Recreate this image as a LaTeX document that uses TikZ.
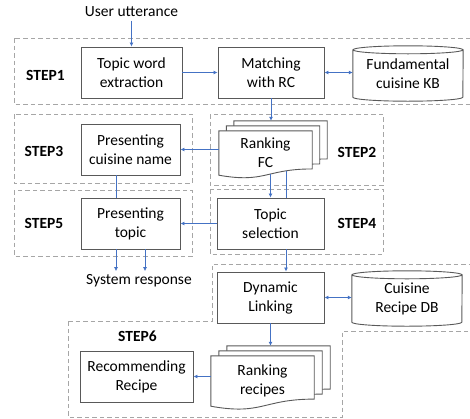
\documentclass[tikz,border=0pt]{standalone}
\usepackage{fontspec}
\setmainfont{Carlito}
\usetikzlibrary{arrows.meta,calc,backgrounds}

\definecolor{boxgray}{HTML}{595959}
\definecolor{dashgray}{HTML}{A6A6A6}
\definecolor{flowblue}{HTML}{4472C4}

% one sheet of a stacked-document symbol, shifted by #2 from node #1
\newcommand\docsheet[2]{%
  \filldraw[boxline,fill=white]
    let \p1=([shift={(#2)}]#1.north west), \p2=([shift={(#2)}]#1.south east),
        \n1={\y1-\y2} in
    (\x1,\y1) -- (\x1,\y2)
    .. controls ({(\x1+\x2)/2},{\y2-0.185*\n1}) and ({(\x1+\x2)/2},{\y2+0.141*\n1}) ..
    (\x2,{\y2+0.141*\n1}) -- (\x2,\y1) -- cycle;}

% database drum around node #1
\newcommand\drum[1]{%
  \draw[boxline] let \p1=(#1.north west), \p2=(#1.south east) in
    ({(\x1+\x2)/2},{\y1-4pt}) ellipse [x radius=55pt, y radius=4pt]
    (\x1,{\y1-4pt}) -- (\x1,{\y2+4pt})
    arc [start angle=180, end angle=360, x radius=55pt, y radius=4pt]
    -- (\x2,{\y1-4pt});}

\begin{document}
\begin{tikzpicture}[x=1pt,y=-1pt,
  font=\fontsize{15.5}{19}\selectfont,
  boxline/.style={draw=boxgray,line width=0.9pt},
  procbox/.style={boxline,rectangle,align=center,inner sep=0pt,minimum height=51pt},
  dbbox/.style={rectangle,align=center,inner sep=0pt,minimum width=110pt,minimum height=55pt},
  docbox/.style={rectangle,align=center,inner sep=0pt},
  stepframe/.style={draw=dashgray,line width=1pt,dash pattern=on 4.5pt off 3pt},
  steplabel/.style={font=\fontsize{15.5}{19}\selectfont\bfseries},
  flow/.style={draw=flowblue,line width=1pt,-{Latex[length=4pt,width=4pt]}},
  flowboth/.style={draw=flowblue,line width=1pt,{Latex[length=4pt,width=4pt]}-{Latex[length=4pt,width=4pt]}},
  link/.style={draw=flowblue,line width=1pt}]

\useasboundingbox (0,0) rectangle (470,418);
\clip (0,0) rectangle (470,418);

% step frames
\draw[stepframe] (14,38) rectangle (476,104);
\draw[stepframe] (14,114) rectangle (192,183);
\draw[stepframe] (210,114) rectangle (383,185);
\draw[stepframe] (14,190) rectangle (192,256);
\draw[stepframe] (210,189) rectangle (383,254);
\draw[stepframe] (68,321) -- (212,321) -- (212,264) -- (476,264) -- (476,331)
  -- (342,331) -- (342,417) -- (68,417) -- cycle;

% step labels
\node[steplabel] (s1) at (45.5,75) {STEP1};
\node[steplabel] (s3) at (44,151) {STEP3};
\node[steplabel] (s5) at (44,223) {STEP5};
\node[steplabel] (s2) at (357,152) {STEP2};
\node[steplabel] (s4) at (357,223) {STEP4};
\node[steplabel] (s6) at (137.5,336) {STEP6};

% blocks
\node (utt) at (131.5,12) {User utterance};
\node[procbox,minimum width=101pt] (tw) at (131.5,72.5) {Topic word\\extraction};
\node[procbox,minimum width=106pt] (mrc) at (271,72.5) {Matching\\with RC};
\node[dbbox] (kb) at (408,73.5) {Fundamental\\cuisine KB};
\node[procbox,minimum width=99pt] (pcn) at (130.5,149.5) {Presenting\\cuisine name};
\node[docbox,minimum width=93pt,minimum height=44pt] (rfc) at (265.5,153) {Ranking\\FC};
\node[procbox,minimum width=99pt] (ptp) at (130.5,223.5) {Presenting\\topic};
\node[procbox,minimum width=107pt] (ts) at (270.5,223.5) {Topic\\selection};
\node (sys) at (139,281) {System response};
\node[procbox,minimum width=107pt] (dl) at (270.5,297.5) {Dynamic\\Linking};
\node[dbbox] (db) at (407,298.5) {Cuisine\\Recipe DB};
\node[docbox,minimum width=103pt,minimum height=50pt] (rr) at (262.5,381) {Ranking\\recipes};
\node[procbox,minimum width=113pt] (rec) at (136.5,376.5) {Recommending\\Recipe};

\drum{kb}
\drum{db}

\begin{scope}[on background layer]
  \docsheet{rfc}{15,-10}
  \docsheet{rfc}{7.5,-5}
  \docsheet{rfc}{0,0}
  \docsheet{rr}{16,-10}
  \docsheet{rr}{8,-5}
  \docsheet{rr}{0,0}
\end{scope}

% connectors
\draw[flow] (utt) -- (tw);
\draw[flow] (tw) -- (mrc);
\draw[flowboth] (mrc.east) -- (mrc.east -| kb.west);
\draw[flow] (mrc.south) -- ([yshift=10pt]mrc.south |- rfc.north);
\draw[flow] (pcn.east -| rfc.west) -- (pcn.east);
\draw[flow] ([yshift=1pt]ts.north |- rfc.south) -- (ts.north);
\draw[link] ([xshift=15.5pt,yshift=4pt]ts.north |- rfc.south) -- ([xshift=15.5pt]ts.north);
\draw[flow] (ts.west) -- (ptp.east);
\draw[link] ([xshift=-14.5pt]pcn.south) -- ([xshift=-14.5pt]ptp.north);
\draw[flow] ([xshift=-14.5pt]ptp.south) -- ([xshift=-14.5pt]ptp.south |- sys.north);
\draw[flow] ([xshift=14.5pt]ptp.south) -- ([xshift=14.5pt]ptp.south |- sys.north);
\draw[flow] ([xshift=15.5pt]ts.south) -- ([xshift=15.5pt]dl.north);
\draw[flowboth] (dl.east) -- (dl.east -| db.west);
\draw[flow] (dl.south) -- ([yshift=10pt]dl.south |- rr.north);
\draw[flow] (rec.east -| rr.west) -- (rec.east);
\end{tikzpicture}
\end{document}
